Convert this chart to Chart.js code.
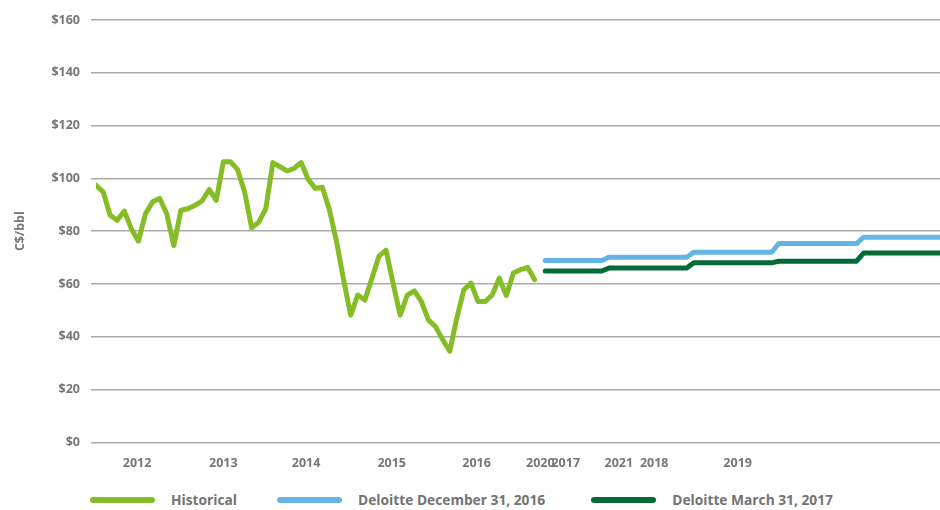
<!DOCTYPE html>
<html lang="en">
<head>
<meta charset="UTF-8">
<title>Oil price forecast</title>
<script src="https://cdn.jsdelivr.net/npm/chart.js@4.4.0/dist/chart.umd.min.js"></script>
<style>
  body { margin: 0; background: #fff; }
  #wrap { position: relative; width: 940px; height: 470px; }
  #legend { display: flex; align-items: center; padding-left: 90px; margin-top: 20px;
            font: bold 13.75px "Open Sans", sans-serif; color: #737373; }
  #legend .item { display: flex; align-items: center; margin-right: 40px; }
  #legend .item:nth-child(2) { margin-right: 46px; }
  #legend .swatch { width: 65px; height: 6px; border-radius: 3px; margin-right: 16px; }
</style>
</head>
<body>
<div id="wrap"><canvas id="chart"></canvas></div>
<div id="legend"></div>
<script>
// monthly historical prices, month 0 = first month shown
const historical = [97.4, 94.9, 86, 84.1, 87.6, 80.9, 76.2, 86.6, 91.1, 92.4, 86.6, 74.5,
  87.9, 88.5, 89.8, 91.5, 95.8, 91.7, 106.3, 106.3, 103.4, 94.9, 81.3, 83.4,
  88.5, 106, 104.4, 102.8, 103.8, 106, 99.6, 96.2, 96.6, 88, 76.1, 61.5,
  48.2, 55.8, 53.9, 62.1, 70.5, 72.8, 60.2, 48.2, 55.8, 57.4, 53.3, 46.3,
  43.8, 38.9, 34.5, 47.1, 57.8, 60.3, 53.3, 53.3, 55.8, 62.2, 55.6, 64.1,
  65.4, 66.3, 61.6];

// monthly forecasts, starting at month forecastStart
const forecastStart = 63.5;
const deloitteDec = [68.9, 68.9, 68.9, 68.9, 68.9, 68.9, 68.9, 68.9, 68.9,
  70.1, 70.1, 70.1, 70.1, 70.1, 70.1, 70.1, 70.1, 70.1, 70.1, 70.1, 70.1,
  72.0, 72.0, 72.0, 72.0, 72.0, 72.0, 72.0, 72.0, 72.0, 72.0, 72.0, 72.0,
  75.3, 75.3, 75.3, 75.3, 75.3, 75.3, 75.3, 75.3, 75.3, 75.3, 75.3, 75.3,
  77.7, 77.7, 77.7, 77.7, 77.7, 77.7, 77.7, 77.7, 77.7, 77.7, 77.7, 77.7];
const deloitteMar = [64.9, 64.9, 64.9, 64.9, 64.9, 64.9, 64.9, 64.9, 64.9,
  66.0, 66.0, 66.0, 66.0, 66.0, 66.0, 66.0, 66.0, 66.0, 66.0, 66.0, 66.0,
  68.0, 68.0, 68.0, 68.0, 68.0, 68.0, 68.0, 68.0, 68.0, 68.0, 68.0, 68.0,
  68.6, 68.6, 68.6, 68.6, 68.6, 68.6, 68.6, 68.6, 68.6, 68.6, 68.6, 68.6,
  71.7, 71.7, 71.7, 71.7, 71.7, 71.7, 71.7, 71.7, 71.7, 71.7, 71.7, 71.7];

// x axis labels (two year axes overlap in the original)
const tickMonths = [5.8, 18, 29.7, 41.8, 53.8, 62.8, 66.4, 73.9, 78.9, 90.7];
const tickLabels = ['2012', '2013', '2014', '2015', '2016', '2020', '2017', '2021', '2018', '2019'];

const gray = '#767676';
const tickFont = { family: 'Open Sans', size: 12.5, weight: 'bold' };

const htmlLegend = {
  id: 'htmlLegend',
  afterUpdate(chart) {
    const box = document.getElementById('legend');
    box.innerHTML = '';
    chart.data.datasets.forEach(ds => {
      const item = document.createElement('div');
      item.className = 'item';
      const sw = document.createElement('span');
      sw.className = 'swatch';
      sw.style.background = ds.borderColor;
      const txt = document.createElement('span');
      txt.textContent = ds.label;
      item.appendChild(sw);
      item.appendChild(txt);
      box.appendChild(item);
    });
  }
};

const lineStyle = { borderWidth: 5, pointRadius: 0, tension: 0,
  borderCapStyle: 'round', borderJoinStyle: 'round' };

new Chart(document.getElementById('chart'), {
  type: 'line',
  data: {
    datasets: [
      { label: 'Historical', data: historical.map((v, i) => ({ x: i, y: v })),
        borderColor: '#84bd26', ...lineStyle },
      { label: 'Deloitte December 31, 2016', data: deloitteDec.map((v, i) => ({ x: forecastStart + i, y: v })),
        borderColor: '#62b5e5', ...lineStyle },
      { label: 'Deloitte March 31, 2017', data: deloitteMar.map((v, i) => ({ x: forecastStart + i, y: v })),
        borderColor: '#046a38', ...lineStyle }
    ]
  },
  options: {
    responsive: true,
    maintainAspectRatio: false,
    animation: false,
    layout: { padding: { top: 20, left: 0, right: 0, bottom: 0 } },
    plugins: { legend: { display: false }, tooltip: { enabled: false } },
    scales: {
      x: {
        type: 'linear', min: 0, max: 119.3,
        grid: { display: false },
        border: { display: false },
        afterBuildTicks: axis => { axis.ticks = tickMonths.map(m => ({ value: m })); },
        afterFit: axis => { axis.height = 27.7; },
        ticks: { autoSkip: false, maxRotation: 0, padding: 6, color: gray, font: tickFont,
                 callback: (v, i) => tickLabels[i] }
      },
      y: {
        min: 0, max: 160,
        afterFit: axis => { axis.width = 96; },
        grid: { color: '#ababab', lineWidth: 1.5, tickLength: 5, tickColor: '#ababab' },
        border: { display: false },
        ticks: { stepSize: 20, padding: 11, color: gray, font: tickFont, callback: v => '$' + v },
        title: { display: true, text: 'C$/bbl', color: gray, font: tickFont, padding: { top: 13, bottom: 0 } }
      }
    }
  },
  plugins: [htmlLegend]
});
</script>
</body>
</html>
